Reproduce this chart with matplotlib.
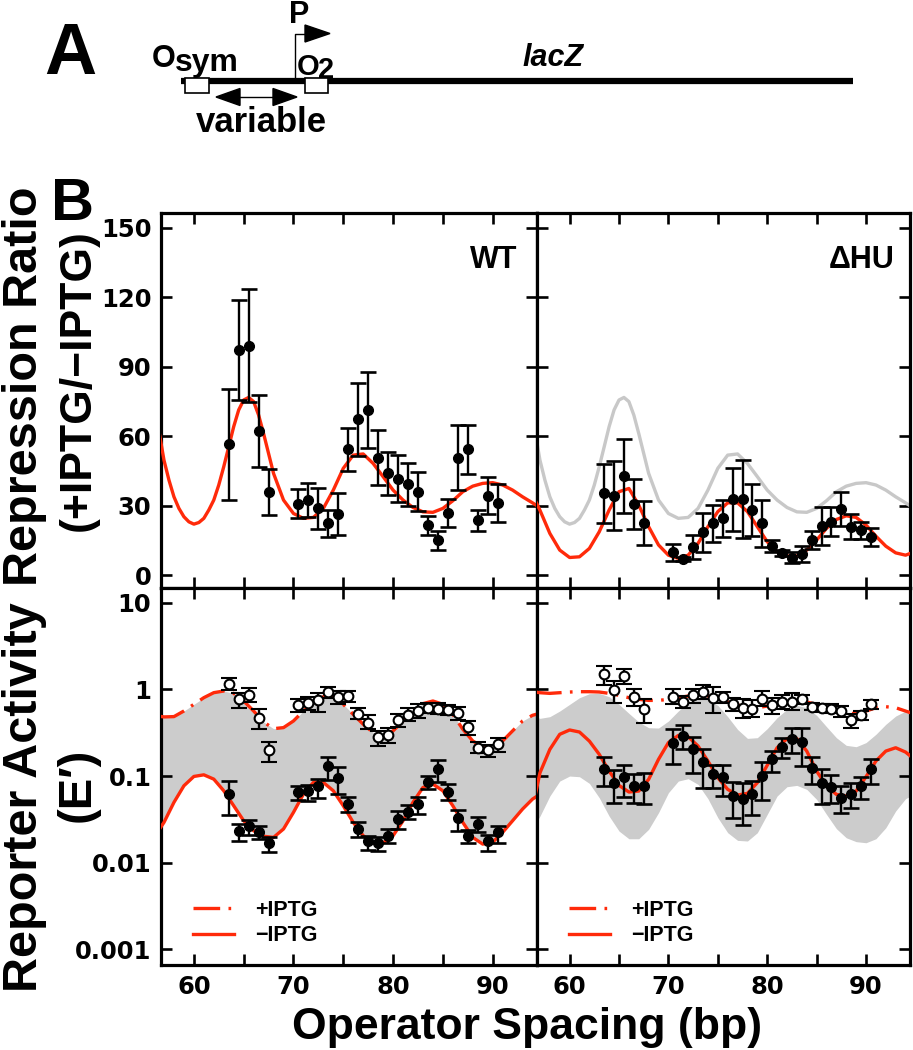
import matplotlib
matplotlib.use("Agg")
import matplotlib.pyplot as plt
import numpy as np
from matplotlib.lines import Line2D
from matplotlib.patches import Polygon, Rectangle
from matplotlib.ticker import FixedLocator, NullLocator, MultipleLocator

plt.rcParams["font.family"] = ["Liberation Sans", "DejaVu Sans"]
plt.rcParams["font.weight"] = "bold"

W, H = 913, 1050
RED = "#ff2a0a"
BAND = "#cccccc"

# ---- data ----------------------------------------------------------------
SPACING = [63.5, 64.5, 65.5, 66.5, 67.5, 70.5, 71.5, 72.5, 73.5, 74.5, 75.5,
           76.5, 77.5, 78.5, 79.5, 80.5, 81.5, 82.5, 83.5, 84.5, 85.5, 86.5,
           87.5, 88.5, 89.5, 90.5]

# repression ratio, WT and dHU (mean, +/- error)
wt_ratio = [56.4, 97.2, 99.0, 62.2, 35.8, 30.9, 32.4, 28.8, 22.3, 26.2, 54.3,
            67.2, 71.3, 50.7, 43.9, 41.7, 39.2, 36.0, 21.6, 15.0, 26.9, 50.7,
            54.3, 23.6, 34.3, 31.1]
wt_ratio_err = [24, 21.6, 24.4, 15.4, 10, 6.3, 7.2, 9, 6, 9.1, 9.2, 15.8, 16.3,
                11.9, 9.4, 10, 9.4, 8.4, 4.1, 4.2, 6, 14, 10.7, 4.7, 8, 8.3]
hu_ratio = [35.3, 34.3, 42.9, 30.7, 22.6, 9.8, 6.9, 12.2, 18.4, 22.3, 24.5,
            32.8, 32.8, 28.1, 22.3, 12.5, 9.4, 7.5, 9.1, 15.1, 21.3, 23.0,
            28.5, 20.9, 19.4, 16.6]
hu_ratio_err = [12.8, 14.8, 15.9, 10.6, 9.5, 3.8, 1.0, 5.2, 8.3, 7.8, 7.9,
                13.6, 16.7, 11.2, 10.2, 2.5, 1.3, 2.3, 3.3, 4.0, 8.1, 6.2, 7.4,
                5.4, 3.6, 3.9]

# reporter activity E' (value, low, high)
wt_plus = [1.14, 0.767, 0.853, 0.468, 0.199, 0.66, 0.702, 0.747, 0.932, 0.823,
           0.838, 0.525, 0.413, 0.283, 0.298, 0.44, 0.511, 0.563, 0.615, 0.60,
           0.578, 0.529, 0.369, 0.213, 0.199, 0.233]
wt_plus_hi = [1.36, 0.90, 1.04, 0.589, 0.248, 0.78, 0.823, 0.90, 1.07, 0.957,
              0.957, 0.615, 0.502, 0.332, 0.362, 0.515, 0.615, 0.672, 0.702,
              0.69, 0.655, 0.632, 0.432, 0.248, 0.227, 0.273]
wt_plus_lo = [0.98, 0.615, 0.715, 0.346, 0.147, 0.548, 0.578, 0.548, 0.80,
              0.672, 0.721, 0.452, 0.346, 0.223, 0.239, 0.372, 0.432, 0.472,
              0.538, 0.515, 0.507, 0.444, 0.298, 0.184, 0.164, 0.187]
wt_minus = [0.0619, 0.0234, 0.0263, 0.0224, 0.0168, 0.0647, 0.0664, 0.0772,
            0.129, 0.0946, 0.0475, 0.0245, 0.0177, 0.0169, 0.0205, 0.0319,
            0.0388, 0.0475, 0.0843, 0.120, 0.0658, 0.0325, 0.0205, 0.028,
            0.018, 0.0224]
wt_minus_hi = [0.0881, 0.028, 0.0313, 0.0263, 0.020, 0.0772, 0.0792, 0.092,
               0.164, 0.126, 0.0566, 0.0292, 0.0205, 0.0196, 0.0245, 0.0398,
               0.0462, 0.0566, 0.1007, 0.154, 0.0807, 0.0408, 0.024, 0.0333,
               0.0211, 0.0267]
wt_minus_lo = [0.0355, 0.018, 0.0211, 0.0188, 0.0132, 0.0532, 0.0519, 0.0552,
               0.0905, 0.062, 0.0387, 0.0196, 0.0142, 0.0138, 0.0168, 0.0245,
               0.0319, 0.0365, 0.0706, 0.0859, 0.0532, 0.0234, 0.0171, 0.0228,
               0.0138, 0.0169]
hu_plus = [1.49, 0.98, 1.43, 0.823, 0.598, 0.823, 0.714, 0.853, 0.932, 0.801,
           0.823, 0.671, 0.614, 0.598, 0.767, 0.653, 0.721, 0.714, 0.767,
           0.631, 0.609, 0.598, 0.562, 0.443, 0.501, 0.671]
hu_plus_hi = [1.86, 1.25, 1.73, 1.0, 0.78, 1.0, 0.838, 1.02, 1.11, 1.06, 0.931,
              0.801, 0.767, 0.746, 0.957, 0.801, 0.861, 0.899, 0.853, 0.689,
              0.671, 0.671, 0.642, 0.515, 0.562, 0.753]
hu_plus_lo = [1.11, 0.70, 1.14, 0.642, 0.405, 0.671, 0.614, 0.689, 0.767,
              0.529, 0.701, 0.562, 0.471, 0.484, 0.642, 0.515, 0.588, 0.578,
              0.671, 0.573, 0.547, 0.529, 0.484, 0.361, 0.443, 0.588]
hu_minus = [0.1216, 0.0838, 0.0973, 0.0767, 0.0767, 0.2426, 0.2895, 0.203,
            0.145, 0.1045, 0.0973, 0.0588, 0.0548, 0.0614, 0.1, 0.1556, 0.218,
            0.27, 0.247, 0.1248, 0.0838, 0.0753, 0.0562, 0.0614, 0.0767, 0.1194]
hu_minus_hi = [0.167, 0.117, 0.133, 0.1045, 0.1073, 0.3516, 0.3844, 0.2844,
               0.203, 0.133, 0.133, 0.0853, 0.0823, 0.0875, 0.145, 0.194,
               0.277, 0.361, 0.361, 0.167, 0.1216, 0.1018, 0.0767, 0.0823,
               0.0982, 0.1585]
hu_minus_lo = [0.0767, 0.0484, 0.0578, 0.0484, 0.0471, 0.1364, 0.2066, 0.1073,
               0.0733, 0.0733, 0.0588, 0.033, 0.027, 0.0355, 0.0529, 0.111,
               0.163, 0.186, 0.1303, 0.0801, 0.0471, 0.0484, 0.0378, 0.0431,
               0.0538, 0.0801]

# WT repression-ratio model curve (denser sampling around the first peak)
WT_FIT_X = [56.5, 57, 57.5, 58, 58.5, 59, 59.5, 60, 60.5, 61, 61.5, 62, 62.5,
            63, 63.5, 64, 64.5, 65, 65.5, 66, 66.5, 67, 67.5, 68, 69, 70, 71,
            72, 73, 74, 75, 76, 77, 78, 79, 80, 81, 82, 83, 84, 85, 86, 87,
            88, 89, 90, 91, 92, 93, 94, 94.5]
wt_fit = [62.0, 49.6, 41.0, 33.8, 28.8, 25.2, 23.0, 22.0, 22.7, 24.5, 28.1,
          32.4, 38.9, 46.8, 55.4, 64.1, 71.3, 75.6, 76.7, 74.9, 69.1, 61.1,
          52.5, 43.9, 32.4, 26.6, 24.5, 24.9, 28.8, 36.7, 46.1, 51.8, 52.3,
          48.2, 42.5, 36.7, 32.4, 29.2, 27.3, 27.1, 28.8, 32.1, 36.0, 38.4,
          39.6, 39.9, 38.9, 36.7, 33.8, 31.2, 29.8]

# other model curves, sampled along the spacing axis
CURVE_X = [56.5, 57, 58, 59, 60, 61, 62, 63, 64, 65, 66, 67, 68, 69, 70, 71,
           72, 73, 74, 75, 76, 77, 78, 79, 80, 81, 82, 83, 84, 85, 86, 87, 88,
           89, 90, 91, 92, 93, 94, 94.5]
hu_fit = [32.4, 28.0, 18.0, 10.8, 7.6, 7.9, 11.5, 18.7, 28.1, 36.0, 37.4, 30.2,
          20.9, 13.0, 8.6, 7.2, 8.6, 13.7, 20.9, 27.4, 31.2, 31.2, 27.4, 20.9,
          14.4, 10.1, 8.2, 8.2, 10.8, 15.1, 20.2, 24.0, 25.6, 24.9, 21.6, 16.8,
          12.5, 9.6, 8.6, 9.4]
wt_fit_plus = [0.49, 0.481, 0.485, 0.563, 0.672, 0.802, 0.916, 0.957, 0.899,
               0.734, 0.563, 0.421, 0.352, 0.362, 0.432, 0.563, 0.702, 0.823,
               0.838, 0.672, 0.515, 0.396, 0.317, 0.290, 0.332, 0.432, 0.563,
               0.684, 0.734, 0.672, 0.515, 0.347, 0.254, 0.217, 0.223, 0.254,
               0.332, 0.432, 0.502, 0.52]
wt_fit_minus = [0.024, 0.0292, 0.0497, 0.0772, 0.0989, 0.1033, 0.0921, 0.0676,
                0.0454, 0.0305, 0.0234, 0.0202, 0.0196, 0.0245, 0.0381, 0.0619,
                0.0843, 0.0843, 0.0676, 0.0454, 0.0292, 0.0205, 0.0169, 0.0169,
                0.0205, 0.0305, 0.0497, 0.0738, 0.0807, 0.0676, 0.0454, 0.0292,
                0.0196, 0.0164, 0.0172, 0.0224, 0.0305, 0.0416, 0.0542, 0.059]
hu_fit_plus = [0.932, 0.915, 0.899, 0.915, 0.932, 0.94, 0.94, 0.932, 0.899,
               0.853, 0.801, 0.767, 0.746, 0.746, 0.767, 0.801, 0.838, 0.853,
               0.838, 0.78, 0.714, 0.66, 0.625, 0.614, 0.642, 0.683, 0.714,
               0.727, 0.714, 0.671, 0.614, 0.562, 0.528, 0.528, 0.562, 0.614,
               0.631, 0.614, 0.562, 0.538]
hu_fit_minus = [0.0588, 0.109, 0.203, 0.303, 0.340, 0.322, 0.253, 0.178, 0.114,
                0.078, 0.0654, 0.0671, 0.0916, 0.156, 0.243, 0.294, 0.284,
                0.222, 0.149, 0.0957, 0.0702, 0.0604, 0.0631, 0.0838, 0.133,
                0.212, 0.27, 0.27, 0.194, 0.114, 0.0767, 0.0614, 0.0588,
                0.0671, 0.0982, 0.149, 0.194, 0.212, 0.189, 0.170]
hu_band_hi = [0.484, 0.463, 0.484, 0.562, 0.671, 0.801, 0.891, 0.899, 0.823,
              0.671, 0.529, 0.42, 0.361, 0.358, 0.431, 0.562, 0.702, 0.78,
              0.767, 0.653, 0.484, 0.345, 0.272, 0.277, 0.352, 0.471, 0.588,
              0.653, 0.614, 0.501, 0.371, 0.277, 0.226, 0.218, 0.243, 0.303,
              0.395, 0.492, 0.562, 0.578]
hu_band_lo = [0.0277, 0.0345, 0.0588, 0.0875, 0.1, 0.0982, 0.0823, 0.0562,
              0.0345, 0.0232, 0.0189, 0.0189, 0.0243, 0.0378, 0.0642, 0.0875,
              0.0932, 0.0801, 0.0548, 0.0331, 0.0222, 0.0181, 0.0178, 0.0222,
              0.0361, 0.0588, 0.0753, 0.078, 0.0702, 0.0538, 0.0361, 0.0247,
              0.0194, 0.0175, 0.017, 0.0189, 0.0253, 0.0395, 0.0548, 0.0588]

X_TICKS = [60, 70, 80, 90]
RATIO_TICKS = [0, 30, 60, 90, 120, 150]
ACT_TICKS = [0.001, 0.01, 0.1, 1, 10]
ACT_LABELS = ["0.001", "0.01", "0.1", "1", "10"]

# ---- layout ---------------------------------------------------------------
fig = plt.figure(figsize=(W / 100, H / 100), dpi=100)


def box(x0, y0, x1, y1):
    return [x0 / W, 1 - y1 / H, (x1 - x0) / W, (y1 - y0) / H]


ax_wt_r = fig.add_axes(box(161, 213.3, 537, 588.3))
ax_hu_r = fig.add_axes(box(537, 213.3, 910, 588.3))
ax_wt_a = fig.add_axes(box(161, 588.3, 537, 965))
ax_hu_a = fig.add_axes(box(537, 588.3, 910, 965))

DASH = (0, (8, 2.5, 0.8, 2.5))
LW = 2.4
ebar = dict(fmt="o", ms=7, color="black", ecolor="black", elinewidth=1.7,
            capsize=5.5, capthick=1.9, zorder=5)


def style(ax, log=False, xlabels=False, ylabels=False):
    ax.set_xlim(56.7, 94.45)
    if log:
        ax.set_yscale("log")
        ax.set_ylim(10 ** -3.18, 10 ** 1.166)
        ax.yaxis.set_major_locator(FixedLocator(ACT_TICKS))
        ax.yaxis.set_minor_locator(NullLocator())
        ax.set_yticklabels(ACT_LABELS)
    else:
        ax.set_ylim(-5.7, 156.2)
        ax.yaxis.set_major_locator(FixedLocator(RATIO_TICKS))
    ax.xaxis.set_major_locator(FixedLocator(X_TICKS))
    ax.xaxis.set_minor_locator(MultipleLocator(5))
    ax.tick_params(which="both", direction="in", top=True, right=True,
                   length=8, width=1.9, labelsize=17.5, pad=7,
                   labelbottom=xlabels, labelleft=ylabels)
    for lab in ax.get_xticklabels() + ax.get_yticklabels():
        lab.set_family("DejaVu Sans")
        lab.set_fontweight("bold")
    for s in ax.spines.values():
        s.set_linewidth(2.3)


# repression ratio panels
ax_wt_r.plot(WT_FIT_X, wt_fit, color=RED, lw=LW, zorder=3)
ax_wt_r.errorbar(SPACING, wt_ratio, yerr=wt_ratio_err, **ebar)
ax_wt_r.text(0.885, 0.875, "WT", transform=ax_wt_r.transAxes, fontsize=22,
             ha="center", va="center")
style(ax_wt_r, ylabels=True)

ax_hu_r.plot(WT_FIT_X, wt_fit, color="#c8c8c8", lw=LW, zorder=2)
ax_hu_r.plot(CURVE_X, hu_fit, color=RED, lw=LW, zorder=3)
ax_hu_r.errorbar(SPACING, hu_ratio, yerr=hu_ratio_err, **ebar)
ax_hu_r.text(0.87, 0.875, "\u0394HU", transform=ax_hu_r.transAxes, fontsize=22,
             ha="center", va="center")
style(ax_hu_r)


def activity(ax, fit_plus, fit_minus, band_hi, band_lo,
             plus, plus_lo, plus_hi, minus, minus_lo, minus_hi):
    ax.fill_between(CURVE_X, band_lo, band_hi, color=BAND, lw=0, zorder=1)
    ax.plot(CURVE_X, fit_plus, color=RED, lw=LW, ls=DASH, zorder=3)
    ax.plot(CURVE_X, fit_minus, color=RED, lw=LW, zorder=3)
    p = np.array(plus)
    ax.errorbar(SPACING, p, yerr=[p - np.array(plus_lo), np.array(plus_hi) - p],
                mfc="white", mec="black", mew=1.5, **ebar)
    m = np.array(minus)
    ax.errorbar(SPACING, m, yerr=[m - np.array(minus_lo), np.array(minus_hi) - m],
                **ebar)
    handles = [Line2D([], [], color=RED, lw=LW, ls=DASH),
               Line2D([], [], color=RED, lw=LW)]
    ax.legend(handles, ["+IPTG", "\u2212IPTG"], loc="lower left",
              bbox_to_anchor=(0.085, 0.05), frameon=False, fontsize=15.5,
              handlelength=1.9, handletextpad=1.0, labelspacing=0.2,
              borderpad=0, borderaxespad=0)


activity(ax_wt_a, wt_fit_plus, wt_fit_minus, wt_fit_plus, wt_fit_minus,
         wt_plus, wt_plus_lo, wt_plus_hi, wt_minus, wt_minus_lo, wt_minus_hi)
style(ax_wt_a, log=True, xlabels=True, ylabels=True)
activity(ax_hu_a, hu_fit_plus, hu_fit_minus, hu_band_hi, hu_band_lo,
         hu_plus, hu_plus_lo, hu_plus_hi, hu_minus, hu_minus_lo, hu_minus_hi)
style(ax_hu_a, log=True, xlabels=True)

# ---- axis titles and panel letters (figure pixel coords) ------------------
def ftext(x, y, s, **kw):
    fig.text(x / W, 1 - y / H, s, **kw)


ftext(25, 386, "Repression Ratio", fontsize=35, rotation=90,
      ha="center", va="center")
ftext(78, 380, "(+IPTG/\u2212IPTG)", fontsize=32, rotation=90,
      ha="center", va="center")
ftext(25, 797, "Reporter Activity", fontsize=35, rotation=90,
      ha="center", va="center")
ftext(78, 785, "(E\u2032)", fontsize=34, rotation=90, ha="center", va="center")
ftext(527, 1028, "Operator Spacing (bp)", fontsize=32, ha="center",
      va="center")
ftext(72, 220, "B", fontsize=43, ha="center", va="baseline")

# ---- panel A: construct schematic ----------------------------------------
ax0 = fig.add_axes([0, 0, 1, 1], zorder=-1)
ax0.set_xlim(0, W)
ax0.set_ylim(H, 0)
ax0.axis("off")

ax0.text(70, 74, "A", fontsize=52, ha="center", va="baseline")
ax0.plot([181, 853], [80.5, 80.5], color="black", lw=4.5,
         solid_capstyle="butt")
for x0, wdt in [(185, 24), (305, 23)]:
    ax0.add_patch(Rectangle((x0, 78), wdt, 15, fc="white", ec="black",
                            lw=1.2, zorder=3))
# promoter arrow
ax0.plot([295, 295, 306], [78, 33.5, 33.5], color="black", lw=1.0)
ax0.add_patch(Polygon([(305, 25), (305, 42), (330, 33.5)], closed=True,
                      fc="black", ec="black"))
ax0.text(299.5, 23, "P", fontsize=22, ha="center", va="baseline")
ax0.text(152, 67, "O", fontsize=22, ha="left", va="baseline")
ax0.text(175, 71, "sym", fontsize=23, ha="left", va="baseline")
ax0.text(297, 75, "O", fontsize=21, ha="left", va="baseline")
ax0.text(318, 78, "2", fontsize=21, ha="left", va="baseline")
ax0.text(553, 66, "lacZ", fontsize=22, style="italic", ha="center",
         va="baseline")
# variable spacing double arrow
ax0.plot([238, 275], [97, 97], color="black", lw=1.0)
ax0.add_patch(Polygon([(216, 97), (240, 88.5), (240, 105.5)], closed=True,
                      fc="black", ec="black"))
ax0.add_patch(Polygon([(297, 97), (273, 88.5), (273, 105.5)], closed=True,
                      fc="black", ec="black"))
ax0.text(261, 132, "variable", fontsize=25, ha="center", va="baseline")

fig.savefig("out.png", dpi=100, facecolor="white")
